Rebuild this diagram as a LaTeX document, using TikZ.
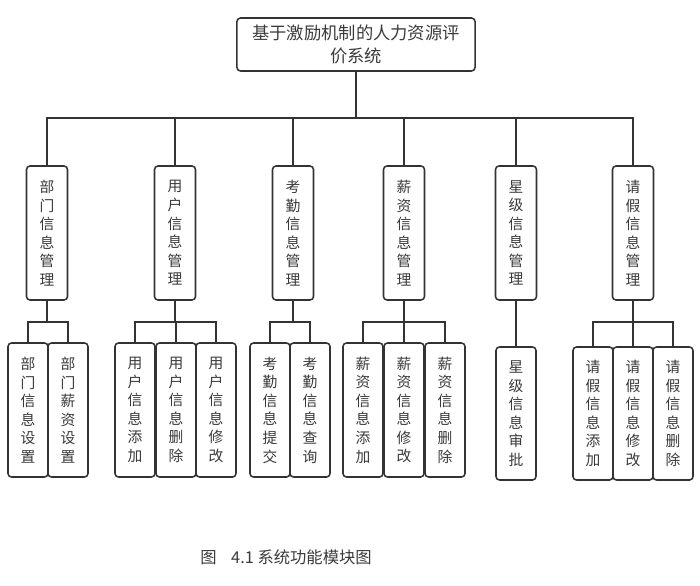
\documentclass[tikz,border=0pt]{standalone}
\usepackage{fontspec}
\newfontfamily\cjk{Noto Sans CJK SC}
\usetikzlibrary{calc}
\definecolor{linegray}{HTML}{333333}
\definecolor{textgray}{HTML}{3A3A3A}

\begin{document}
\begin{tikzpicture}[
  x=0.025cm, y=-0.025cm,
  every node/.style={font=\cjk, text=textgray},
  conn/.style={draw=linegray, line width=1pt},
  sysbox/.style={draw=linegray, line width=1.1pt, rounded corners=2.5pt,
    minimum width=5.95cm, minimum height=1.325cm, inner sep=0pt,
    align=center, font=\cjk\fontsize{12.3}{16.3}\selectfont},
  modbox/.style={draw=linegray, line width=1.1pt, rounded corners=2.5pt,
    fill=white, minimum width=1.025cm, minimum height=3.35cm, inner sep=0pt,
    align=center, font=\cjk\fontsize{10.5}{13.2}\selectfont},
  leafbox/.style={modbox, minimum width=1.0cm},
  captext/.style={font=\cjk\fontsize{11.6}{14}\selectfont}
]
\useasboundingbox (0,0) rectangle (700,586);

% top node
\node[sysbox] (sys) at (356,44.5) {基于激励机制的人力资源评\\价系统};

% second level
\node[modbox] (dept)   at (47,233)  {部\\门\\信\\息\\管\\理};
\node[modbox] (user)   at (175,233) {用\\户\\信\\息\\管\\理};
\node[modbox] (attend) at (293,233) {考\\勤\\信\\息\\管\\理};
\node[modbox] (salary) at (404,233) {薪\\资\\信\\息\\管\\理};
\node[modbox] (star)   at (516,233) {星\\级\\信\\息\\管\\理};
\node[modbox] (leave)  at (633,233) {请\\假\\信\\息\\管\\理};

% main bus
\coordinate (bus) at (356,118);
\draw[conn] (sys.south) -- (bus);
\foreach \m in {dept,user,attend,salary,star,leave}
  \draw[conn] (\m.north) |- (bus);

% third level
\node[leafbox] (d1) at (28,410)  {部\\门\\信\\息\\设\\置};
\node[leafbox] (d2) at (68,410)  {部\\门\\薪\\资\\设\\置};

\node[leafbox] (u1) at (135,410) {用\\户\\信\\息\\添\\加};
\node[leafbox] (u2) at (176,410) {用\\户\\信\\息\\删\\除};
\node[leafbox] (u3) at (216,410) {用\\户\\信\\息\\修\\改};

\node[leafbox] (k1) at (270,410) {考\\勤\\信\\息\\提\\交};
\node[leafbox] (k2) at (310,410) {考\\勤\\信\\息\\查\\询};

\node[leafbox] (x1) at (363,410) {薪\\资\\信\\息\\添\\加};
\node[leafbox] (x2) at (404,410) {薪\\资\\信\\息\\修\\改};
\node[leafbox] (x3) at (445,410) {薪\\资\\信\\息\\删\\除};

\node[leafbox, minimum height=3.325cm] (s1) at (516,413.5) {星\\级\\信\\息\\审\\批};

\node[leafbox, minimum height=3.325cm] (q1) at (593,413.5) {请\\假\\信\\息\\添\\加};
\node[leafbox, minimum height=3.325cm] (q2) at (633,413.5) {请\\假\\信\\息\\修\\改};
\node[leafbox, minimum height=3.325cm] (q3) at (673,413.5) {请\\假\\信\\息\\删\\除};

% sub-buses
\foreach \m/\kids in {dept/{d1,d2}, user/{u1,u2,u3}, attend/{k1,k2},
                      salary/{x1,x2,x3}, leave/{q1,q2,q3}} {
  \coordinate (\m-bus) at (\m.south |- 0,322);
  \draw[conn] (\m.south) -- (\m-bus);
  \foreach \k in \kids
    \draw[conn] (\k.north) |- (\m-bus);
}
\draw[conn] (star.south) -- (s1.north);

% caption
\node[captext] (cap) at (286,557) {图\hspace{0.9em}4.1 系统功能模块图};

\end{tikzpicture}
\end{document}
